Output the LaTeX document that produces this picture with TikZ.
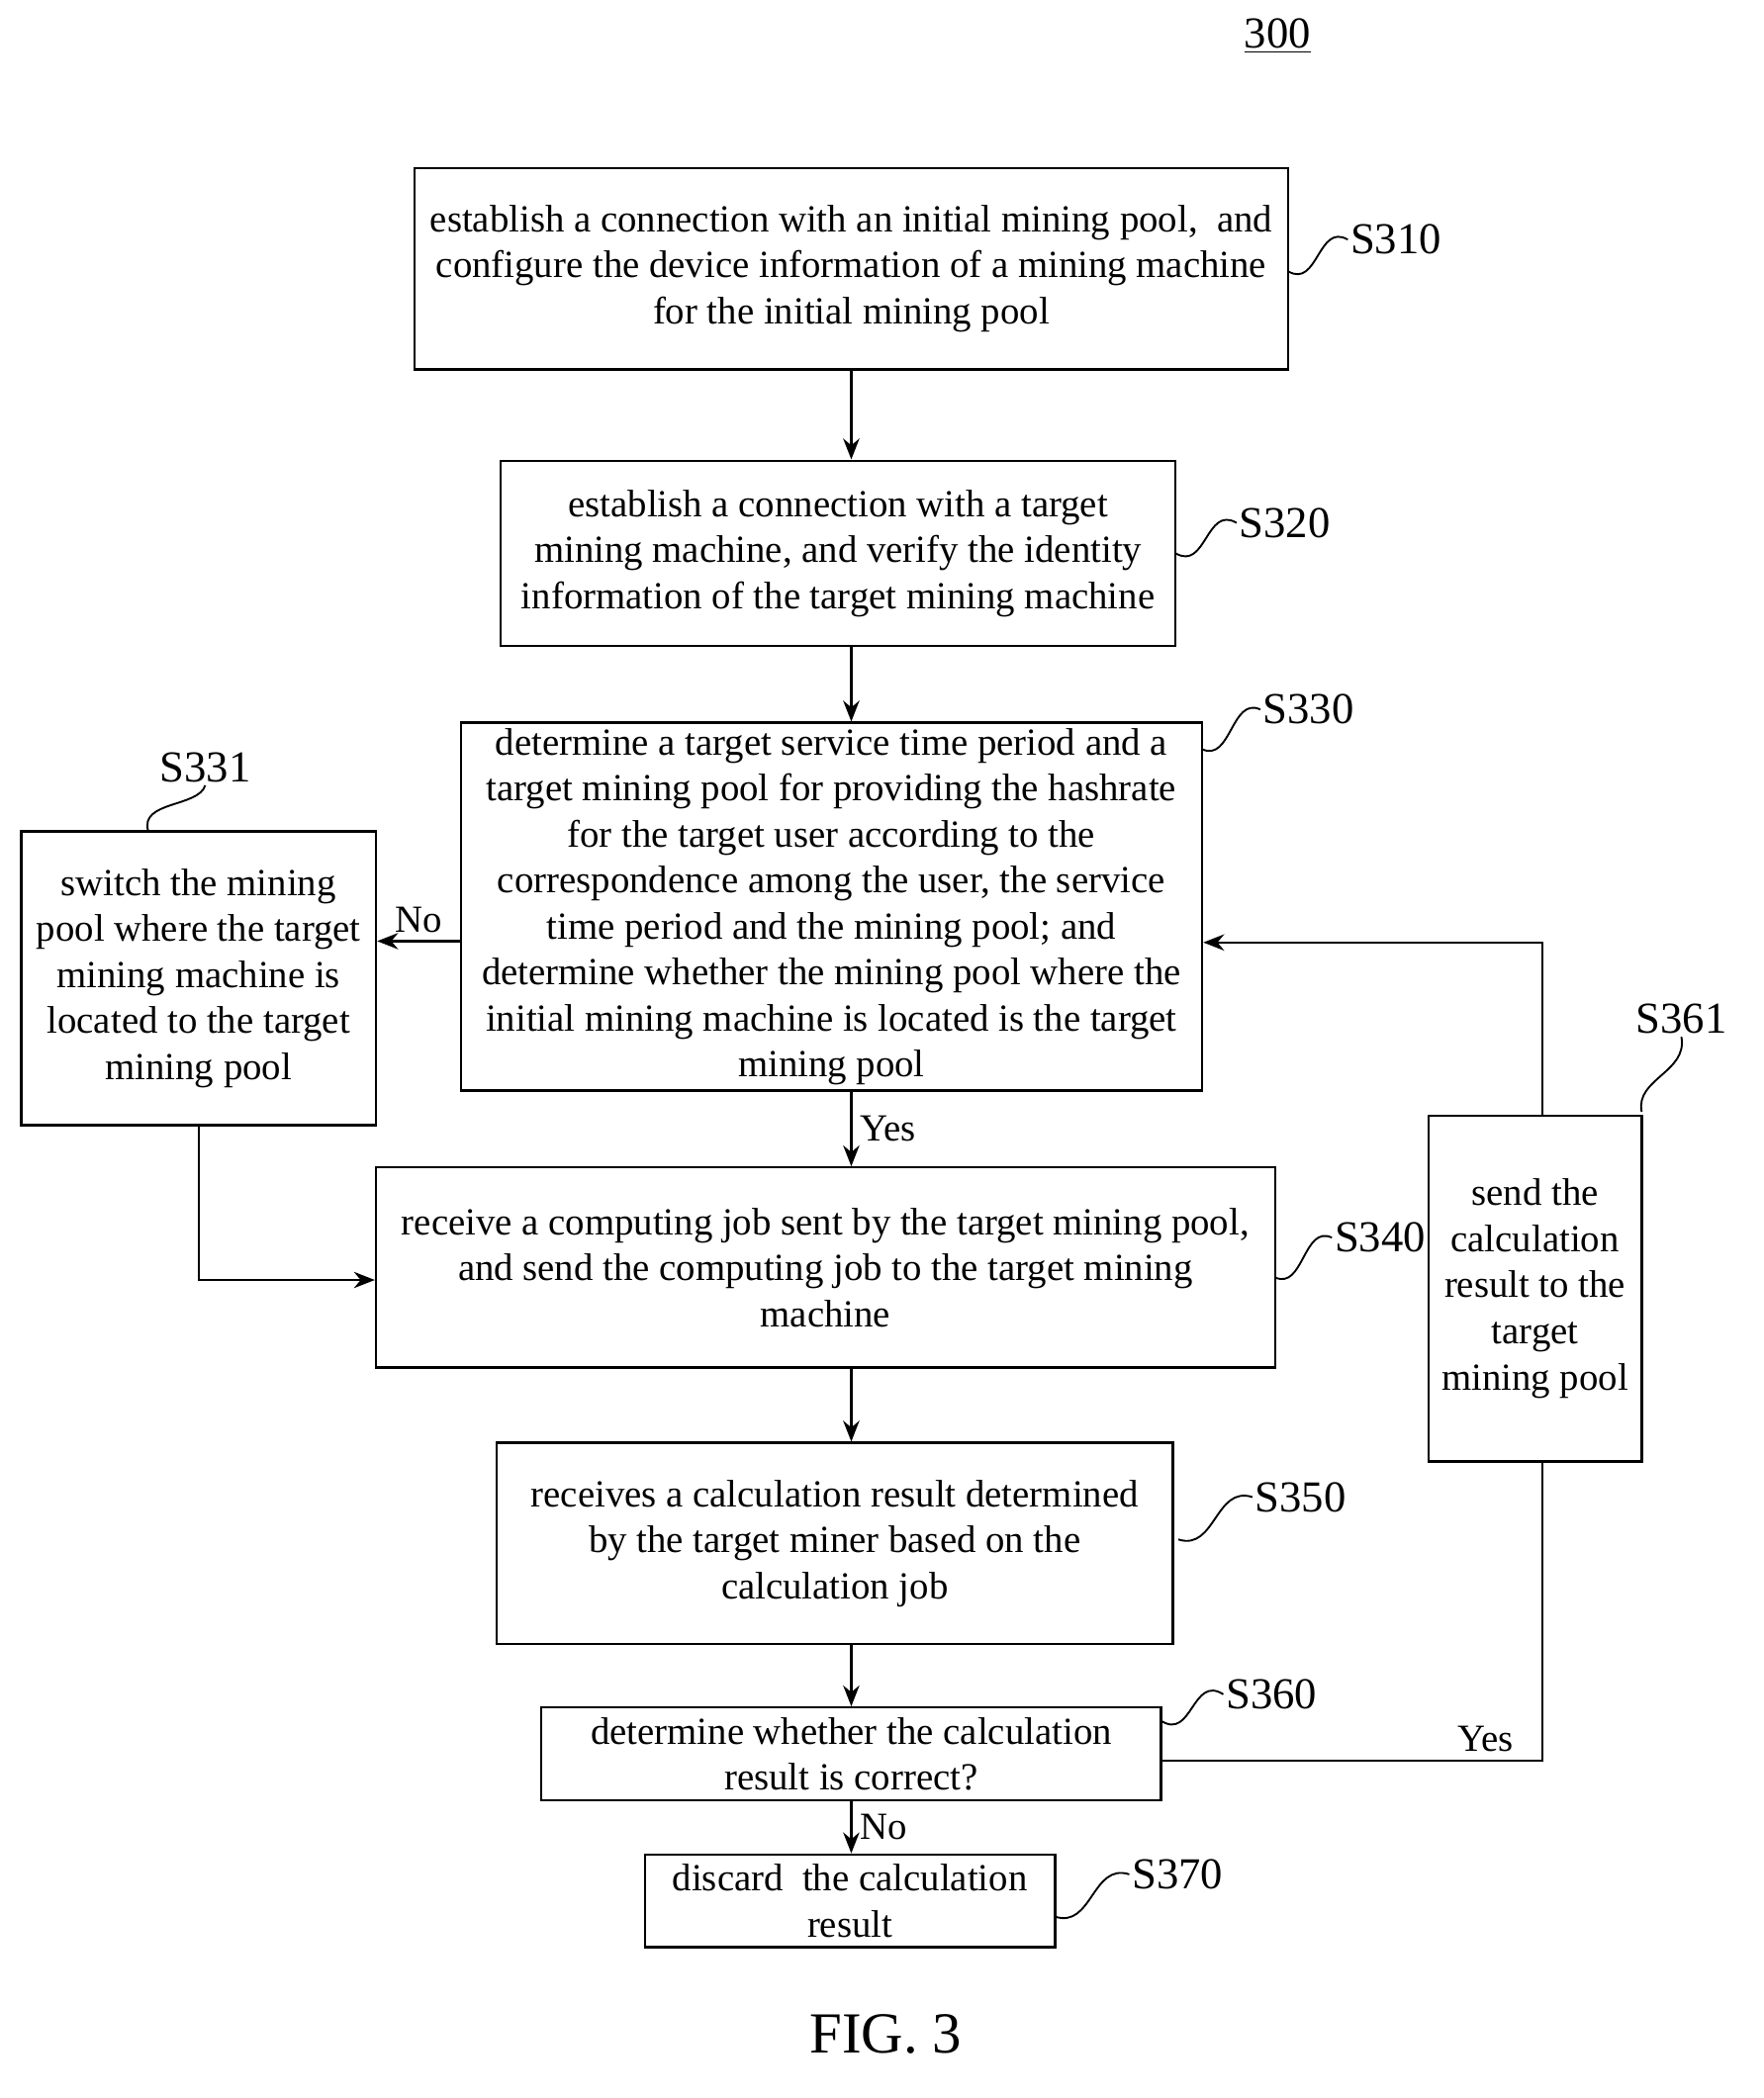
\documentclass[tikz,border=0pt]{standalone}
\usepackage{fontspec}
\setmainfont{Liberation Serif}
\usetikzlibrary{arrows.meta,calc}
\begin{document}
\begin{tikzpicture}[x=0.02cm,y=-0.02cm,
  box/.style={draw,line width=1pt,align=center,inner sep=1pt,font=\fontsize{16.5}{19.8}\selectfont},
  lab/.style={font=\fontsize{19}{22}\selectfont,anchor=west,inner sep=1pt},
  tl/.style={font=\fontsize{16.5}{19}\selectfont},
  arr/.style={-{Stealth[length=9pt,width=7pt]},line width=1pt},
  ln/.style={line width=1pt},
  sq/.style={line width=0.8pt}]
\useasboundingbox (0,0) rectangle (1332,1585);
\node[font=\fontsize{19}{22}\selectfont] (n300) at (965,27) {\underline{300}};
\node[box,minimum width=660*0.02cm,minimum height=152*0.02cm] (s310) at (643,203) {establish a connection with an initial mining pool,\ \ and\\configure the device information of a mining machine\\for the initial mining pool};
\node[box,minimum width=510*0.02cm,minimum height=140*0.02cm] (s320) at (633,418) {establish a connection with a target\\mining machine, and verify the identity\\information of the target mining machine};
\node[box,minimum width=560*0.02cm,minimum height=278*0.02cm] (s330) at (628,685) {determine a target service time period and a\\target mining pool for providing the hashrate\\for the target user according to the\\correspondence among the user, the service\\time period and the mining pool; and\\determine whether the mining pool where the\\initial mining machine is located is the target\\mining pool};
\node[box,minimum width=268*0.02cm,minimum height=222*0.02cm] (s331) at (150,739) {switch the mining\\pool where the target\\mining machine is\\located to the target\\mining pool};
\node[box,minimum width=679*0.02cm,minimum height=151*0.02cm] (s340) at (623.5,957.5) {receive a computing job sent by the target mining pool,\\and send the computing job to the target mining\\machine};
\node[box,minimum width=161*0.02cm,minimum height=261*0.02cm] (s361) at (1159.5,973.5) {send the\\calculation\\result to the\\target\\mining pool};
\node[box,minimum width=511*0.02cm,minimum height=152*0.02cm] (s350) at (630.5,1166) {receives a calculation result determined\\by the target miner based on the\\calculation job};
\node[box,minimum width=468*0.02cm,minimum height=70*0.02cm] (s360) at (643,1325) {determine whether the calculation\\result is correct?};
\node[box,minimum width=310*0.02cm,minimum height=70*0.02cm] (s370) at (642,1436) {discard\ \ the calculation\\result};
\node[font=\fontsize{25}{29}\selectfont] (fig) at (669,1537) {FIG. 3};
% labels
\node[lab] (l310) at (1018,181) {S310};
\node[lab] (l320) at (934,395) {S320};
\node[lab] (l330) at (952,536) {S330};
\node[lab,anchor=center] (l331) at (155,580) {S331};
\node[lab] (l340) at (1006,935) {S340};
\node[lab,anchor=center] (l361) at (1270,770) {S361};
\node[lab] (l350) at (946,1131) {S350};
\node[lab] (l360) at (924,1280) {S360};
\node[lab] (l370) at (853,1416) {S370};
\foreach \a/\b in {{973,205}/l310,{888,418}/l320,{908,566}/l330,{963,965}/l340,{890,1163}/l350,{877,1300}/l360,{797,1448}/l370}{
  \draw[sq] (\a) .. controls ($(\a)!0.5!(\b.west)+(0,25)$) and ($(\a)!0.5!(\b.west)+(0,-25)$) .. (\b.west);}
\draw[sq] (112,628) .. controls (105,605) and (150,610) .. (l331.south);
\draw[sq] (1240,840) .. controls (1235,815) and (1275,810) .. (l361.south);
% arrows
\draw[arr] (s310.south -| 643,0) -- (s320.north -| 643,0);
\draw[arr] (s320.south -| 643,0) -- (s330.north -| 643,0);
\draw[arr] (s330.south -| 643,0) -- node[right,tl]{Yes} (s340.north -| 643,0);
\draw[arr] (s330.west |- 0,711) -- node[above,tl]{No} (s331.east |- 0,711);
\draw[arr] (s331.south) |- (s340.west |- 0,967);
\draw[arr] (s340.south -| 643,0) -- (s350.north -| 643,0);
\draw[arr] (s350.south -| 643,0) -- (s360.north -| 643,0);
\draw[arr] (s360.south -| 643,0) -- node[right,tl]{No} (s370.north -| 643,0);
\draw[ln] (s360.east |- 0,1330) -- node[pos=0.85,above,tl]{Yes} (1165,1330) -- (s361.south -| 1165,0);
\draw[arr] (s361.north -| 1165,0) |- (s330.east |- 0,712);
\end{tikzpicture}
\end{document}
